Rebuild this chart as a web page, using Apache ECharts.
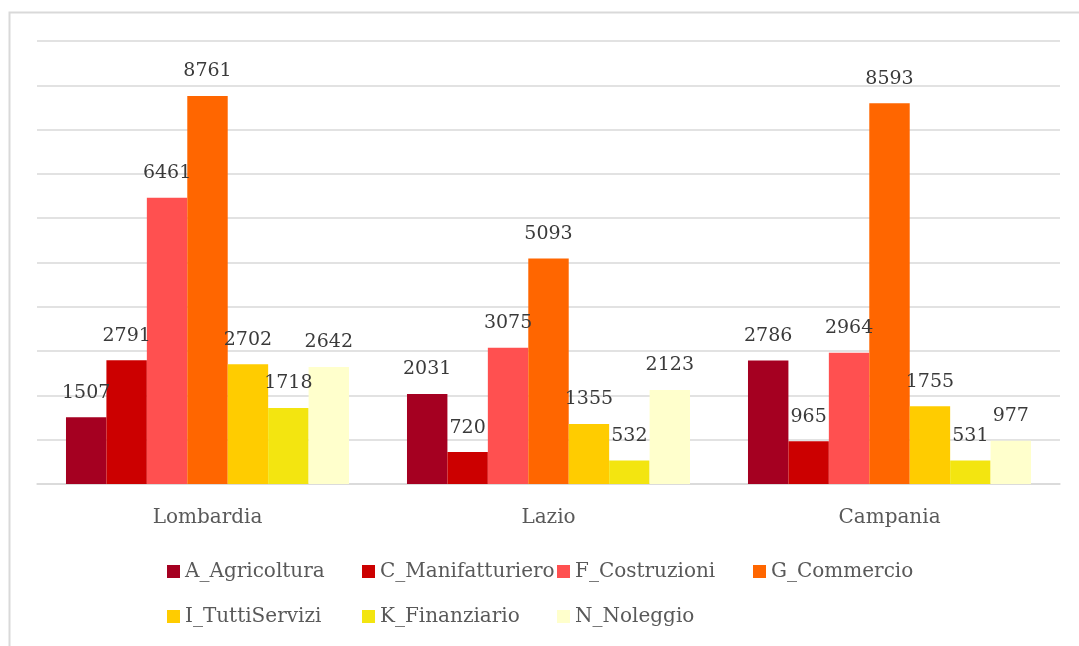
<!DOCTYPE html>
<html>
<head>
<meta charset="utf-8">
<script src="https://cdn.jsdelivr.net/npm/echarts@6/dist/echarts.min.js"></script>
<style>
  html, body { margin: 0; padding: 0; background: #fff; }
  #chart { width: 1079px; height: 646px; }
</style>
</head>
<body>
<div id="chart"></div>
<script>
var regions = ['Lombardia', 'Lazio', 'Campania'];
var sectors = ['A_Agricoltura', 'C_Manifatturiero', 'F_Costruzioni', 'G_Commercio',
  'I_TuttiServizi', 'K_Finanziario', 'N_Noleggio'];
var sectorColors = ['#A50021', '#CC0000', '#FF5050', '#FF6600', '#FFCC00', '#F3E510', '#FFFFCC'];
// one array per sector, values for Lombardia, Lazio, Campania
var agricoltura = [1507, 2031, 2786];
var manifatturiero = [2791, 720, 965];
var costruzioni = [6461, 3075, 2964];
var commercio = [8761, 5093, 8593];
var tuttiServizi = [2702, 1355, 1755];
var finanziario = [1718, 532, 531];
var noleggio = [2642, 2123, 977];
var seriesValues = [agricoltura, manifatturiero, costruzioni, commercio, tuttiServizi, finanziario, noleggio];

var fontFamily = '"DejaVu Serif", serif';

var series = sectors.map(function (name, i) {
  return {
    name: name,
    type: 'bar',
    data: seriesValues[i],
    barGap: '0%',
    barCategoryGap: '17%',
    itemStyle: { color: sectorColors[i] },
    label: {
      show: true,
      position: 'top',
      distance: 15,
      color: '#3a3a3a',
      fontFamily: fontFamily,
      fontSize: 19
    }
  };
});

// legend laid out as a grid of columns, like the original
var legendColumns = [
  { left: 167, data: [sectors[0], sectors[4]] },
  { left: 362, data: [sectors[1], sectors[5]] },
  { left: 557, data: [sectors[2], sectors[6]] },
  { left: 753, data: [sectors[3]] }
];
var legends = legendColumns.map(function (col) {
  return {
    orient: 'vertical',
    left: col.left,
    top: 561,
    itemWidth: 13,
    itemHeight: 13,
    itemGap: 24,
    icon: 'rect',
    selectedMode: false,
    padding: 0,
    textStyle: { color: '#595959', fontFamily: fontFamily, fontSize: 20, lineHeight: 21 },
    data: col.data
  };
});

var chart = echarts.init(document.getElementById('chart'));
chart.setOption({
  animation: false,
  backgroundColor: '#fff',
  graphic: [{
    type: 'rect',
    left: 7,
    top: 10,
    shape: { width: 1200, height: 800 },
    style: { fill: 'none', stroke: '#d9d9d9', lineWidth: 2 },
    silent: true
  }],
  legend: legends,
  grid: { left: 37, right: 19, top: 41, bottom: 162, containLabel: false },
  xAxis: {
    type: 'category',
    data: regions,
    axisTick: { show: false },
    axisLine: { lineStyle: { color: '#d9d9d9', width: 1.5 } },
    axisLabel: { color: '#595959', fontFamily: fontFamily, fontSize: 20, margin: 24 }
  },
  yAxis: {
    type: 'value',
    min: 0,
    max: 10000,
    interval: 1000,
    axisLabel: { show: false },
    axisLine: { show: false },
    axisTick: { show: false },
    splitLine: { lineStyle: { color: '#d9d9d9', width: 1.5 } }
  },
  series: series
});
</script>
</body>
</html>
